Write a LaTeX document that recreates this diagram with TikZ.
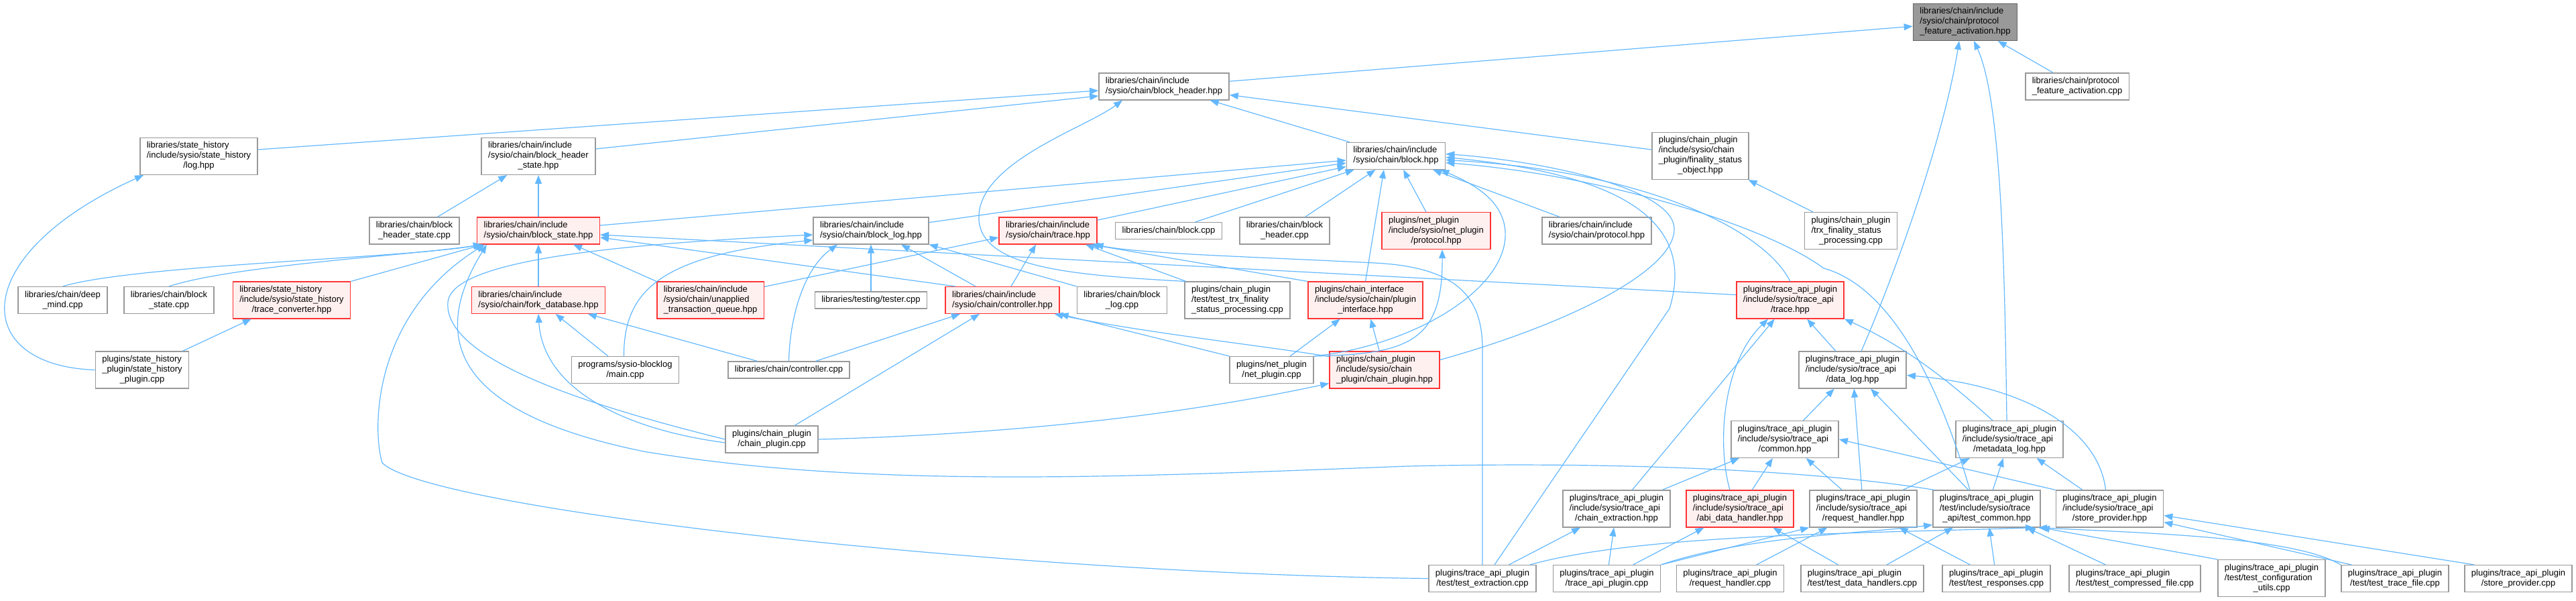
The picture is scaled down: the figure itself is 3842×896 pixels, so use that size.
\documentclass[tikz,border=0pt]{standalone}
\usepackage{fontspec}
\setmainfont{Liberation Sans}
\usepackage{xcolor}
\usepackage{tikz}
\usetikzlibrary{arrows.meta}

\definecolor{incblue}{HTML}{63B8FF}
\definecolor{boxgray}{HTML}{999999}
\definecolor{rootgray}{HTML}{666666}
\definecolor{hotred}{HTML}{FF3333}
\definecolor{hotfill}{HTML}{FFF0F0}

% all lines left, last line centred
\newcommand{\flab}[2]{\begin{tabular}{@{}l@{}}#1\multicolumn{1}{@{}c@{}}{#2}\end{tabular}}

\begin{document}
\begin{tikzpicture}[
  x=1pt, y=-1pt,
  font=\fontsize{13}{15}\selectfont,
  hdr/.style={draw=boxgray, fill=white, line width=1.5pt,
              inner xsep=10pt, inner ysep=4.8pt},
  hot/.style={hdr, draw=hotred, fill=hotfill},
  root/.style={hdr, draw=rootgray, fill=boxgray},
  arr/.style={-{Triangle[length=13pt, width=10pt]}, draw=incblue, line width=1.2pt},
]
\useasboundingbox (0,0) rectangle (3842,896);

%% --- Nodes ---
\node[root] (feat) at (2931,33) {\flab{libraries/chain/include\\/sysio/chain/protocol\\}{\_feature\_activation.hpp}};
\node[hdr] (pfa) at (3098,129) {\flab{libraries/chain/protocol\\}{\_feature\_activation.cpp}};
\node[hdr] (bh) at (1736,129) {\flab{libraries/chain/include\\}{/sysio/chain/block\_header.hpp}};
\node[hdr] (fso) at (2536,232.5) {\flab{plugins/chain\_plugin\\/include/sysio/chain\\\_plugin/finality\_status\\}{\_object.hpp}};
\node[hdr] (blk) at (2082,232.5) {\flab{libraries/chain/include\\}{/sysio/chain/block.hpp}};
\node[hdr] (logh) at (296.5,233) {\flab{libraries/state\_history\\/include/sysio/state\_history\\}{/log.hpp}};
\node[hdr] (bhs) at (803,233) {\flab{libraries/chain/include\\/sysio/chain/block\_header\\}{\_state.hpp}};

\node[hdr] (bhscpp) at (618,344) {\flab{libraries/chain/block\\}{\_header\_state.cpp}};
\node[hot] (bs) at (803,344) {\flab{libraries/chain/include\\}{/sysio/chain/block\_state.hpp}};
\node[hdr] (bl) at (1299,344) {\flab{libraries/chain/include\\}{/sysio/chain/block\_log.hpp}};
\node[hot] (ctr) at (1563,344) {\flab{libraries/chain/include\\}{/sysio/chain/trace.hpp}};
\node[hdr] (blkcpp) at (1743,344) {\flab{}{libraries/chain/block.cpp}};
\node[hdr] (bhcpp) at (1916,344) {\flab{libraries/chain/block\\}{\_header.cpp}};
\node[hot] (nprot) at (2142,344) {\flab{plugins/net\_plugin\\/include/sysio/net\_plugin\\}{/protocol.hpp}};
\node[hdr] (cprot) at (2381.5,344) {\flab{libraries/chain/include\\}{/sysio/chain/protocol.hpp}};
\node[hdr] (trxfsp) at (2760.5,344) {\flab{plugins/chain\_plugin\\/trx\_finality\_status\\}{\_processing.cpp}};

\node[hdr] (dm) at (93.5,447.5) {\flab{libraries/chain/deep\\}{\_mind.cpp}};
\node[hdr] (bscpp) at (252,447.5) {\flab{libraries/chain/block\\}{\_state.cpp}};
\node[hot] (tcv) at (435,447.5) {\flab{libraries/state\_history\\/include/sysio/state\_history\\}{/trace\_converter.hpp}};
\node[hot] (fdb) at (803,447.5) {\flab{libraries/chain/include\\}{/sysio/chain/fork\_database.hpp}};
\node[hot] (uq) at (1059.5,447.5) {\flab{libraries/chain/include\\/sysio/chain/unapplied\\}{\_transaction\_queue.hpp}};
\node[hdr] (tester) at (1299,447.5) {\flab{}{libraries/testing/tester.cpp}};
\node[hot] (ctrl) at (1495,447.5) {\flab{libraries/chain/include\\}{/sysio/chain/controller.hpp}};
\node[hdr] (blcpp) at (1673.5,447.5) {\flab{libraries/chain/block\\}{\_log.cpp}};
\node[hdr] (tfsp) at (1845.5,447.5) {\flab{plugins/chain\_plugin\\/test/test\_trx\_finality\\}{\_status\_processing.cpp}};
\node[hot] (pi) at (2036.5,447.5) {\flab{plugins/chain\_interface\\/include/sysio/chain/plugin\\}{\_interface.hpp}};
\node[hot] (tt) at (2670,447.5) {\flab{plugins/trace\_api\_plugin\\/include/sysio/trace\_api\\}{/trace.hpp}};

\node[hdr] (shp) at (212,551.5) {\flab{plugins/state\_history\\\_plugin/state\_history\\}{\_plugin.cpp}};
\node[hdr] (bmain) at (932.5,551.5) {\flab{programs/sysio-blocklog\\}{/main.cpp}};
\node[hdr] (ctrlcpp) at (1176.5,551.5) {\flab{}{libraries/chain/controller.cpp}};
\node[hdr] (npcpp) at (1896.5,551.5) {\flab{plugins/net\_plugin\\}{/net\_plugin.cpp}};
\node[hot] (cph) at (2065,551.5) {\flab{plugins/chain\_plugin\\/include/sysio/chain\\}{\_plugin/chain\_plugin.hpp}};
\node[hdr] (dl) at (2763,551.5) {\flab{plugins/trace\_api\_plugin\\/include/sysio/trace\_api\\}{/data\_log.hpp}};

\node[hdr] (cpcpp) at (1151,655) {\flab{plugins/chain\_plugin\\}{/chain\_plugin.cpp}};
\node[hdr] (cm) at (2662,655) {\flab{plugins/trace\_api\_plugin\\/include/sysio/trace\_api\\}{/common.hpp}};
\node[hdr] (ml) at (2997,655) {\flab{plugins/trace\_api\_plugin\\/include/sysio/trace\_api\\}{/metadata\_log.hpp}};

\node[hdr] (ce) at (2411,758.5) {\flab{plugins/trace\_api\_plugin\\/include/sysio/trace\_api\\}{/chain\_extraction.hpp}};
\node[hot] (adh) at (2595,758.5) {\flab{plugins/trace\_api\_plugin\\/include/sysio/trace\_api\\}{/abi\_data\_handler.hpp}};
\node[hdr] (rh) at (2779,758.5) {\flab{plugins/trace\_api\_plugin\\/include/sysio/trace\_api\\}{/request\_handler.hpp}};
\node[hdr] (tcm) at (2963,758.5) {\flab{plugins/trace\_api\_plugin\\/test/include/sysio/trace\\}{\_api/test\_common.hpp}};
\node[hdr] (sph) at (3146.5,758.5) {\flab{plugins/trace\_api\_plugin\\/include/sysio/trace\_api\\}{/store\_provider.hpp}};

\node[hdr] (tex) at (2211,862.5) {\flab{plugins/trace\_api\_plugin\\}{/test/test\_extraction.cpp}};
\node[hdr] (tapcpp) at (2396.5,862.5) {\flab{plugins/trace\_api\_plugin\\}{/trace\_api\_plugin.cpp}};
\node[hdr] (rhcpp) at (2580.5,862.5) {\flab{plugins/trace\_api\_plugin\\}{/request\_handler.cpp}};
\node[hdr] (tdh) at (2777.5,862.5) {\flab{plugins/trace\_api\_plugin\\}{/test/test\_data\_handlers.cpp}};
\node[hdr] (tresp) at (2977.5,862.5) {\flab{plugins/trace\_api\_plugin\\}{/test/test\_responses.cpp}};
\node[hdr] (tcomp) at (3184,862.5) {\flab{plugins/trace\_api\_plugin\\}{/test/test\_compressed\_file.cpp}};
\node[hdr] (tconf) at (3388,862) {\flab{plugins/trace\_api\_plugin\\/test/test\_configuration\\}{\_utils.cpp}};
\node[hdr] (ttf) at (3572,862.5) {\flab{plugins/trace\_api\_plugin\\}{/test/test\_trace\_file.cpp}};
\node[hdr] (spcpp) at (3756,862.5) {\flab{plugins/trace\_api\_plugin\\}{/store\_provider.cpp}};

%% --- Includes: top ---
\draw[arr] (bh) -- (feat);
\draw[arr] (pfa) -- (feat);
\draw[arr] ([xshift=13pt]dl.north) .. controls (2830,400) and (2900,200) .. ([xshift=-9pt]feat.south);
\draw[arr] ([xshift=-4pt]ml.north) .. controls (2990,400) and (2985,150) .. ([xshift=13pt]feat.south);
\draw[arr] ([yshift=10pt]logh.east) -- ([yshift=-6pt]bh.west);
\draw[arr] ([yshift=11pt]bhs.east) -- ([yshift=-14pt]bh.west);
\draw[arr] (blk) -- (bh);
\draw[arr] (fso) -- (bh);
\draw[arr] (tfsp.north west) .. controls (1600,410) and (1455,400) .. (1460,320)
           .. controls (1465,240) and (1620,190) .. ([xshift=-62pt]bh.south);
\draw[arr] (trxfsp) -- (fso);
\draw[arr] (bhscpp) -- (bhs);
\draw[arr] (bs) -- (bhs);

%% --- Includes: block.hpp ---
\draw[arr] (bs) -- (blk);
\draw[arr] (bl) -- (blk);
\draw[arr] (ctr) -- (blk);
\draw[arr] (blkcpp) -- (blk);
\draw[arr] (bhcpp) -- (blk);
\draw[arr] (pi.north) -- ([xshift=-18pt]blk.south);
\draw[arr] (nprot) -- (blk);
\draw[arr] (cprot) -- (blk);
\draw[arr] ([yshift=15pt]cph.east) .. controls (2350,480) and (2500,400) .. (2497,340)
           .. controls (2494,280) and (2300,240) .. ([yshift=3pt]blk.east);
\draw[arr] ([xshift=18pt]tex.north) -- (2490,460) .. controls (2530,330) and (2420,260) .. ([yshift=-2pt]blk.east);
\draw[arr] (tt.north) .. controls (2630,340) and (2450,255) .. ([yshift=-6pt]blk.east);
\draw[arr] ([xshift=-25pt]tcm.north) .. controls (2900,600) and (2830,430) .. (2720,400)
           .. controls (2640,340) and (2400,262) .. ([yshift=-10pt]blk.east);
\draw[arr] (npcpp.north east) .. controls (2110,515) and (2250,430) .. (2245,345)
           .. controls (2242,300) and (2200,275) .. ([xshift=-8pt]blk.south east);

%% --- Includes: block_state.hpp ---
\draw[arr] (dm.north) .. controls (200,395) and (600,385) .. ([xshift=8pt]bs.south west);
\draw[arr] (bscpp.north) .. controls (350,395) and (620,380) .. ([xshift=8pt]bs.south west);
\draw[arr] (tcv.north east) -- ([xshift=10pt]bs.south west);
\draw[arr] (tex.west) .. controls (1500,855) and (640,760) .. (570,690)
           .. controls (555,640) and (555,470) .. ([xshift=12pt]bs.south west);
\draw[arr] ([xshift=3pt]tcm.north west) .. controls (2700,700) and (2400,688) .. (2100,695)
           .. controls (1700,710) and (1300,730) .. (960,673)
           .. controls (700,620) and (630,520) .. ([xshift=15pt]bs.south west);
\draw[arr] (fdb) -- (bs);
\draw[arr] (uq.north west) -- ([xshift=-40pt]bs.south east);
\draw[arr] ([xshift=-70pt]ctrl.north) -- ([yshift=-10pt]bs.east);
\draw[arr] ([yshift=8pt]tt.west) -- ([yshift=-6pt]bs.east);

%% --- Includes: block_log.hpp ---
\draw[arr] (cpcpp.west) .. controls (900,610) and (660,540) .. (668,450)
           .. controls (675,390) and (900,365) .. ([yshift=-6pt]bl.west);
\draw[arr] ([xshift=-2pt]bmain.north) .. controls (930,430) and (990,380) .. ([yshift=-14pt]bl.west);
\draw[arr] (ctrlcpp.north) .. controls (1178,470) and (1200,400) .. ([xshift=-50pt]bl.south);
\draw[arr] (tester) -- (bl);
\draw[arr] ([xshift=-40pt]ctrl.north) -- ([xshift=45pt]bl.south);
\draw[arr] (blcpp.north west) -- (bl.south east);

%% --- Includes: trace.hpp / controller.hpp / fork_database.hpp ---
\draw[arr] ([yshift=-8pt]uq.north east) -- ([yshift=-10pt]ctr.west);
\draw[arr] ([xshift=13pt]ctrl.north) -- ([xshift=-18pt]ctr.south);
\draw[arr] (tfsp) -- (ctr);
\draw[arr] (pi.north west) -- ([xshift=-10pt]ctr.south east);
\draw[arr] (tex.north) -- (2211,520) .. controls (2211,440) and (2170,398) .. (2050,392)
           .. controls (1850,382) and (1700,378) .. ([xshift=-4pt]ctr.south east);
\draw[arr] (ctrlcpp) -- (ctrl);
\draw[arr] (cpcpp) -- (ctrl);
\draw[arr] (npcpp.north west) -- (ctrl.south east);
\draw[arr] ([yshift=20pt]cph.west) .. controls (1880,515) and (1700,495) .. ([xshift=-8pt]ctrl.south east);
\draw[arr] ([yshift=-5pt]cpcpp.west) .. controls (930,640) and (810,580) .. (fdb.south);
\draw[arr] (bmain) -- (fdb);
\draw[arr] (ctrlcpp) -- (fdb);

%% --- Includes: plugins ---
\draw[arr] (shp) -- (tcv);
\draw[arr] (shp.west) .. controls (-45,545) and (-50,380) .. ([xshift=6pt]logh.south west);
\draw[arr] (npcpp) -- (pi);
\draw[arr] (cph) -- (pi);
\draw[arr] (npcpp.north east) .. controls (2100,528) and (2152,510) .. ([xshift=9pt]nprot.south);
\draw[arr] (cpcpp.east) .. controls (1600,645) and (1850,600) .. ([yshift=-20pt]cph.west);

%% --- Includes: trace_api ---
\draw[arr] (ce) -- (tt);
\draw[arr] ([xshift=-15pt]adh.north) .. controls (2560,660) and (2570,540) .. ([xshift=-33pt]tt.south);
\draw[arr] (dl) -- (tt);
\draw[arr] ([xshift=-25pt]ml.north) .. controls (2920,580) and (2850,520) .. (tt.south east);
\draw[arr] (cm) -- (dl);
\draw[arr] (rh) -- (dl);
\draw[arr] (tcm) -- (dl);
\draw[arr] ([xshift=-6pt]sph.north) .. controls (3130,640) and (3020,575) .. ([yshift=-8pt]dl.east);
\draw[arr] (rh) -- (ml);
\draw[arr] (tcm) -- (ml);
\draw[arr] (sph) -- (ml);
\draw[arr] (ce) -- (cm);
\draw[arr] (adh) -- (cm);
\draw[arr] (rh) -- (cm);
\draw[arr] (sph.north west) -- (cm.east);

%% --- Includes: bottom row ---
\draw[arr] (tex) -- (ce);
\draw[arr] ([xshift=-10pt]tex.north east) .. controls (2450,795) and (2800,795) .. ([xshift=-10pt]tcm.south east);
\draw[arr] (tapcpp) -- (ce);
\draw[arr] (tapcpp) -- (adh);
\draw[arr] (tapcpp.north east) -- (rh.south west);
\draw[arr] (tapcpp.north east) .. controls (2600,800) and (2780,795) .. ([yshift=4pt]tcm.south west);
\draw[arr] (rhcpp) -- (rh);
\draw[arr] (tdh) -- (adh);
\draw[arr] (tdh) -- (tcm);
\draw[arr] (tresp) -- (rh);
\draw[arr] (tresp) -- (tcm);
\draw[arr] (tcomp) -- (tcm);
\draw[arr] (tconf.north west) -- (tcm.south east);
\draw[arr] (ttf.north west) .. controls (3420,800) and (3200,795) .. ([xshift=-4pt]tcm.south east);
\draw[arr] ([xshift=16pt]ttf.north west) -- ([yshift=-20pt]sph.east);
\draw[arr] ([xshift=15pt]spcpp.north west) -- ([yshift=-10pt]sph.east);

\end{tikzpicture}
\end{document}
